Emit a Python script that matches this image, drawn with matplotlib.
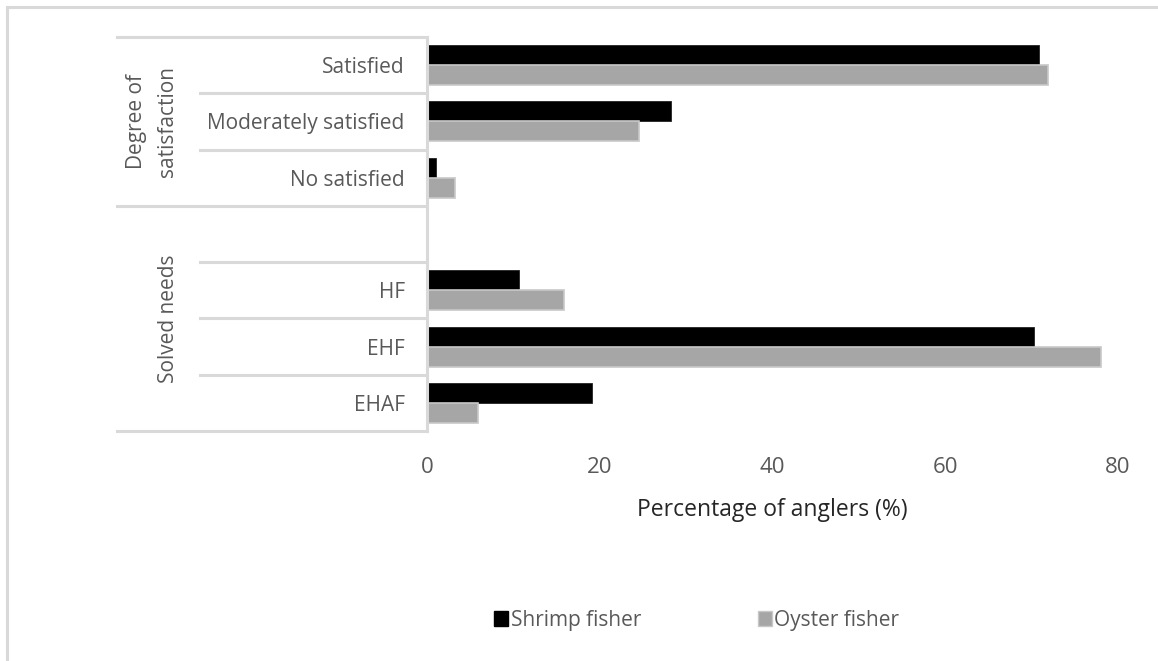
import matplotlib.pyplot as plt
from matplotlib.lines import Line2D
from matplotlib.patches import Patch

plt.rcParams['font.family'] = ['Open Sans', 'DejaVu Sans']

# Daten
categories = ["Satisfied", "Moderately satisfied", "No satisfied", "",
              "HF", "EHF", "EHAF"]
shrimp = [70.8, 28.2, 1.1, None, 10.7, 70.3, 19.1]
oyster = [71.9, 24.6, 3.2, None, 15.9, 78.0, 5.9]
groups = ["Degree of\nsatisfaction", "Solved needs"]
xticks = [0, 20, 40, 60, 80]

grey_line = "#d9d9d9"
txt = "#595959"

fig = plt.figure(figsize=(11.58, 6.61), dpi=100)
ax = fig.add_axes([0.3687, 0.348, 0.5968, 0.596])

h = 0.355
pos = list(range(len(categories)))
for i, (s, o) in enumerate(zip(shrimp, oyster)):
    if s is None:
        continue
    ax.barh(i - h / 2, s, height=h, color="black", edgecolor="#222222", linewidth=0.6)
    ax.barh(i + h / 2, o, height=h, color="#a6a6a6", edgecolor="#c8c8c8", linewidth=1.2)

ax.set_xlim(0, 80)
ax.set_ylim(6.5, -0.5)
ax.set_yticks(pos, categories)
ax.set_xticks(xticks, [str(t) for t in xticks])
ax.tick_params(axis="y", length=0, pad=16, labelsize=15, labelcolor=txt)
ax.tick_params(axis="x", length=0, pad=19, labelsize=16, labelcolor=txt)
ax.set_xlabel("Percentage of anglers (%)", fontsize=16.5, color="#262626", labelpad=14)

for sp in ["top", "right", "bottom"]:
    ax.spines[sp].set_visible(False)
ax.spines["left"].set_color(grey_line)
ax.spines["left"].set_linewidth(2.2)

# Kategorie-Struktur links
tr = ax.get_yaxis_transform()
for y in [-0.5, 2.5, 6.5]:
    ax.plot([-0.4486, 0], [y, y], color=grey_line, lw=2.2, transform=tr, clip_on=False)
for y in [0.5, 1.5, 3.5, 4.5, 5.5]:
    ax.plot([-0.3285, 0], [y, y], color=grey_line, lw=2.2, transform=tr, clip_on=False)
ax.text(-0.398, 1.0, groups[0], rotation=90, ha="center", va="center",
        fontsize=15, color=txt, transform=tr, linespacing=1.6)
ax.text(-0.374, 4.5, groups[1], rotation=90, ha="center", va="center",
        fontsize=15, color=txt, transform=tr)

# Rahmen
fig.add_artist(Line2D([0.006, 0.006], [0, 0.99], color=grey_line, lw=2.2))
fig.add_artist(Line2D([0.006, 1.0], [0.99, 0.99], color=grey_line, lw=2.2))

handles = [Patch(facecolor="black", edgecolor="black"),
           Patch(facecolor="#a6a6a6", edgecolor="#c8c8c8")]
leg = fig.legend(handles, ["Shrimp fisher", "Oyster fisher"], loc="center",
                 bbox_to_anchor=(0.6015, 0.062), ncol=2, frameon=False,
                 handlelength=0.7, handleheight=0.7, handletextpad=0.1,
                 columnspacing=5.6, fontsize=15)
for t in leg.get_texts():
    t.set_color(txt)

plt.savefig("out.png", dpi=100)
